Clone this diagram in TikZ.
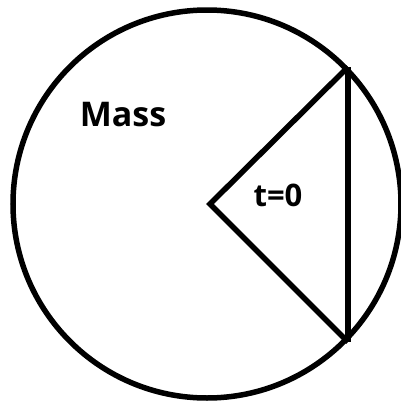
\documentclass[tikz,border=0pt]{standalone}
\usepackage{fontspec}
\setmainfont{Open Sans}
\begin{document}
\begin{tikzpicture}[x=1pt, y=-1pt]
    % Define colours
    \definecolor{lineColour}{HTML}{000000}

    % Define styles
    \tikzset{edge/.style={draw=lineColour, line width=5.5pt, line join=miter},
             tag/.style={text=lineColour, inner sep=0pt}}

    % Fix the picture size
    \useasboundingbox (0,0) rectangle (401,402);
    \clip (0,0) rectangle (401,402);

    % Define coordinates
    \coordinate (O) at (207,204);
    \coordinate (P) at (210,204);
    \coordinate (U) at (348,67);
    \coordinate (L) at (348,342);

    % Draw the mass
    \draw[edge] (O) circle (194);

    % Draw the wedge
    \draw[edge] (U) -- (P) -- (L);
    \draw[edge] (U) -- (L);

    % Labels
    \node[tag, font=\fontsize{34}{40}\selectfont\bfseries] (mass) at (123,115) {Mass};
    \node[tag, font=\fontsize{31}{37}\selectfont\bfseries] (time) at (278,195) {t=0};

\end{tikzpicture}
\end{document}
